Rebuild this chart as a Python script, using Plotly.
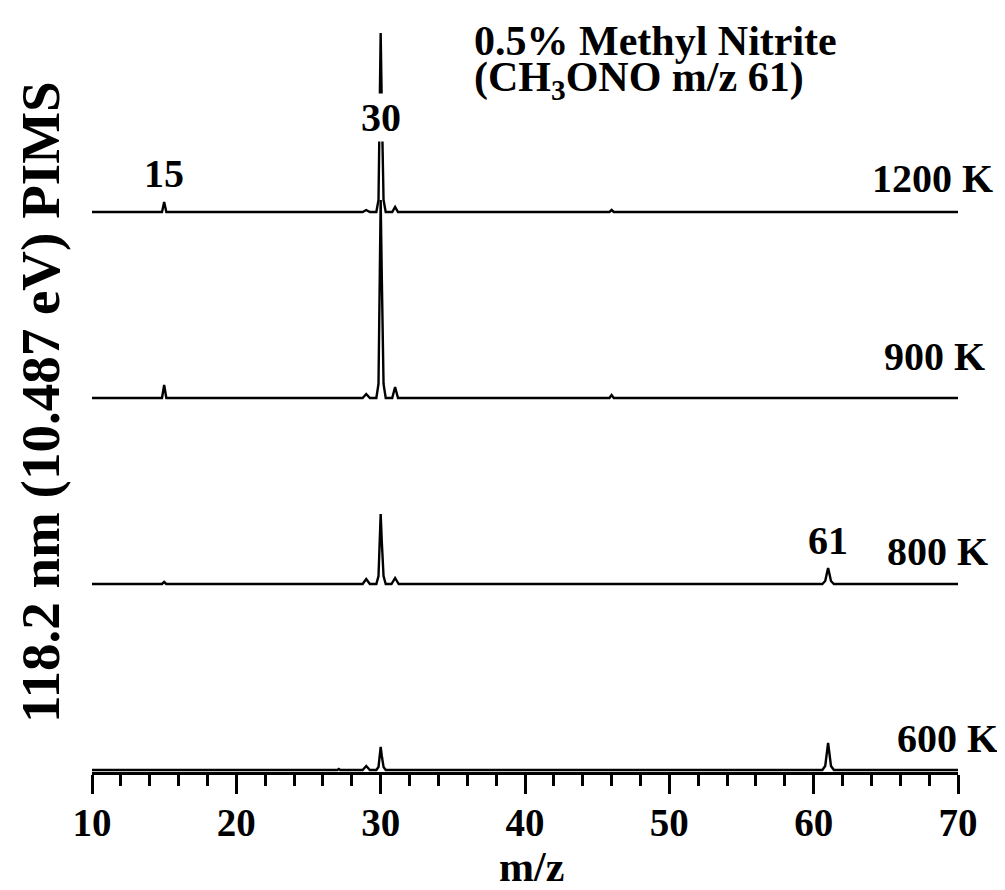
import plotly.graph_objects as go

# ---- data ----
temperatures = ["600 K", "800 K", "900 K", "1200 K"]
offsets = [2, 188, 374, 560]  # vertical stacking offsets (signal units)

mz_600 = [10, 27.0, 27.1, 27.2, 28.75, 29.0, 29.25, 29.7, 29.85, 29.95, 30.0, 30.08, 30.2, 30.35,
          60.6, 60.8, 60.92, 61.0, 61.08, 61.2, 61.4, 70]
int_600 = [0, 0, 1, 0, 0, 4, 0, 0, 3, 16, 23, 14, 3, 0,
           0, 4, 18, 27, 18, 4, 0, 0]

mz_800 = [10, 14.85, 15.0, 15.15, 28.75, 29.0, 29.25, 29.7, 29.85, 29.95, 30.0, 30.08, 30.2, 30.35,
          30.75, 31.0, 31.25, 60.6, 60.8, 60.92, 61.0, 61.08, 61.2, 61.4, 70]
int_800 = [0, 0, 2, 0, 0, 5, 0, 0, 8, 50, 70, 42, 8, 0,
           0, 6, 0, 0, 3, 11, 16, 11, 3, 0, 0]

mz_900 = [10, 14.85, 15.0, 15.15, 28.75, 29.0, 29.25, 29.7, 29.85, 29.95, 30.0, 30.08, 30.2, 30.35,
          30.8, 31.0, 31.2, 45.85, 46.0, 46.15, 70]
int_900 = [0, 0, 13, 0, 0, 4, 0, 0, 14, 140, 198, 120, 14, 0,
           0, 11, 0, 0, 3, 0, 0]

mz_1200 = [10, 14.85, 15.0, 15.15, 28.75, 29.0, 29.25, 29.7, 29.85, 29.95, 30.0, 30.08, 30.2, 30.35,
           30.8, 31.0, 31.2, 45.85, 46.0, 46.15, 70]
int_1200 = [0, 0, 10, 0, 0, 2, 0, 0, 12, 125, 179, 105, 12, 0,
            0, 5, 0, 0, 2, 0, 0]

spectra_mz = [mz_600, mz_800, mz_900, mz_1200]
spectra_int = [int_600, int_800, int_900, int_1200]

x_ticks = [10, 20, 30, 40, 50, 60, 70]
peak_labels = ["15", "30", "61"]
peak_label_mz = [15, 30, 61]

FONT = "Liberation Serif"

# ---- layout geometry (page pixels; the page body adds an 8 px margin) ----
PAGE = 8
L, R, T, B = 92 - PAGE, 958 - PAGE, 20 - PAGE, 772 - PAGE
W, H = 1005 - PAGE, 890 - PAGE
PH = B - T


def px_x(px):
    return (px - PAGE - L) / (R - L)


def px_y(py):
    return (B - (py - PAGE)) / PH


fig = go.Figure()
for mz, inten, off in zip(spectra_mz, spectra_int, offsets):
    fig.add_trace(go.Scatter(
        x=mz, y=[v + off for v in inten], mode="lines",
        line=dict(color="black", width=2.4), showlegend=False, hoverinfo="skip"))

annotations = []
# peak labels
peak_label_py = [173, 117, 540]
for txt, mz, py in zip(peak_labels, peak_label_mz, peak_label_py):
    annotations.append(dict(
        x=mz, xref="x", y=px_y(py), yref="paper", text=f"<b>{txt}</b>",
        showarrow=False, xanchor="center", yanchor="middle",
        bgcolor="white" if txt == "30" else None, borderpad=1,
        font=dict(family=FONT, size=40, color="black")))

# temperature labels
temp_right_px = [1000, 990, 987, 995]
temp_center_py = [738, 551, 357, 178]
for t, rx, py in zip(temperatures, temp_right_px, temp_center_py):
    annotations.append(dict(
        x=px_x(rx), xref="paper", y=px_y(py), yref="paper", text=f"<b>{t}</b>",
        showarrow=False, xanchor="right", yanchor="middle",
        font=dict(family=FONT, size=40, color="black")))

# title lines
annotations.append(dict(
    x=px_x(472), xref="paper", y=px_y(41), yref="paper",
    text="<b>0.5% Methyl Nitrite</b>", showarrow=False, xanchor="left", yanchor="middle",
    font=dict(family=FONT, size=42, color="black")))
annotations.append(dict(
    x=px_x(472), xref="paper", y=px_y(80), yref="paper",
    text="<b>(CH<sub>3</sub>ONO m/z 61)</b>", showarrow=False, xanchor="left", yanchor="middle",
    font=dict(family=FONT, size=42, color="black")))

# axis titles
annotations.append(dict(
    x=px_x(531), xref="paper", y=px_y(867), yref="paper",
    text="<b>m/z</b>", showarrow=False, xanchor="center", yanchor="middle",
    font=dict(family=FONT, size=42, color="black")))
annotations.append(dict(
    x=px_x(40), xref="paper", y=px_y(402), yref="paper",
    text="<b>118.2 nm (10.487 eV) PIMS</b>", showarrow=False, textangle=-90,
    xanchor="center", yanchor="middle",
    font=dict(family=FONT, size=55, color="black")))

fig.update_layout(
    width=W, height=H, autosize=False,
    margin=dict(l=L, r=W - R, t=T, b=H - B, pad=0),
    plot_bgcolor="white", paper_bgcolor="white",
    annotations=annotations,
    xaxis=dict(
        range=[10, 70], tickvals=x_ticks, ticktext=[f"<b>{v}</b>" for v in x_ticks],
        showgrid=False, zeroline=False, showline=True, linecolor="black", linewidth=2.5,
        ticks="outside", ticklen=19, tickwidth=2.5, tickcolor="black",
        ticklabelstandoff=-5,
        tickfont=dict(family=FONT, size=39, color="black"),
        minor=dict(dtick=2, tick0=10, ticks="outside", ticklen=11, tickwidth=2.5,
                   tickcolor="black", showgrid=False),
    ),
    yaxis=dict(range=[0, PH], visible=False, showgrid=False, zeroline=False),
)

fig.write_html("out.html")
